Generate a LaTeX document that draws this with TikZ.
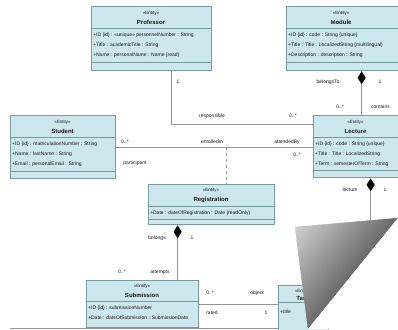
\documentclass[tikz,border=0pt]{standalone}
\usepackage{fontspec}
\setmainfont{Liberation Sans}
\usetikzlibrary{arrows.meta,calc}
\definecolor{boxfill}{RGB}{204,232,238}
\definecolor{boxline}{RGB}{120,155,160}
\definecolor{conncol}{RGB}{150,150,150}
\definecolor{txt}{RGB}{25,25,25}
\tikzset{
  umlbox/.style={draw=boxline, fill=boxfill, line width=1.3pt, inner sep=0pt, anchor=north west},
  stereo/.style={font=\fontsize{4.5}{5}\selectfont, text=txt, inner sep=0pt},
  cname/.style={font=\fontsize{6}{6}\selectfont\bfseries, text=txt, inner sep=0pt},
  attr/.style={font=\fontsize{5}{5}\selectfont, text=txt, inner sep=0pt, anchor=west},
  divider/.style={draw=boxline, line width=0.8pt},
  conn/.style={draw=conncol, line width=0.9pt},
  comp/.style={conn, -{Diamond[length=13pt,width=8pt,color=black,fill=black]}},
  assoc/.style={conn, dashed, line width=0.7pt},
  lbl/.style={font=\fontsize{5}{5}\selectfont, text=txt, inner sep=0pt},
}
\begin{document}
\begin{tikzpicture}[x=1pt,y=-1pt]
\useasboundingbox (0,0) rectangle (398,329);
\fill[white] (0,0) rectangle (398,329);

% Professor
\node[umlbox, minimum width=120pt, minimum height=64pt] (prof) at (91,6) {};
\node[stereo] (profS) at (151,13) {«Entity»};
\node[cname] (profN) at (151,22) {Professor};
\draw[divider] (91,28) -- (211,28);
\node[attr] (profA1) at (93,35) {+ID \{id\} : «unique» personnelNumber : String};
\node[attr] (profA2) at (93,45) {+Title : academicTitle : String};
\node[attr] (profA3) at (93,55) {+Name : personalName : Name \{read\}};
\draw[divider] (91,62) -- (211,62);

% Module
\node[umlbox, minimum width=112pt, minimum height=64pt] (mod) at (286,6) {};
\node[stereo] (modS) at (341,13) {«Entity»};
\node[cname] (modN) at (341,22) {Module};
\draw[divider] (286,28) -- (398,28);
\node[attr] (modA1) at (288,35) {+ID \{id\} : code : String \{unique\}};
\node[attr] (modA2) at (288,45) {+Title : Title : LocalizedString \{multilingual\}};
\node[attr] (modA3) at (288,55) {+Description : description : String};
\draw[divider] (286,62) -- (398,62);

% Student
\node[umlbox, minimum width=105pt, minimum height=63pt] (stu) at (10,115) {};
\node[stereo] (stuS) at (62.5,122) {«Entity»};
\node[cname] (stuN) at (62.5,131) {Student};
\draw[divider] (10,137) -- (115,137);
\node[attr] (stuA1) at (12,144) {+ID \{id\} : matriculationNumber : String};
\node[attr] (stuA2) at (12,154) {+Name : lastName : String};
\node[attr] (stuA3) at (12,164) {+Email : personalEmail : String};
\draw[divider] (10,171) -- (115,171);

% Lecture
\node[umlbox, minimum width=85pt, minimum height=62pt] (lec) at (313,115) {};
\node[stereo] (lecS) at (355.5,122) {«Entity»};
\node[cname] (lecN) at (355.5,131) {Lecture};
\draw[divider] (313,137) -- (398,137);
\node[attr] (lecA1) at (315,144) {+ID \{id\} : code : String \{unique\}};
\node[attr] (lecA2) at (315,154) {+Title : Title : LocalizedString};
\node[attr] (lecA3) at (315,164) {+Term : semesterOfTerm : String};
\draw[divider] (313,170) -- (398,170);

% Registration (association class)
\node[umlbox, minimum width=126pt, minimum height=40pt] (reg) at (148,184) {};
\node[stereo] (regS) at (211,190) {«Entity»};
\node[cname] (regN) at (211,200) {Registration};
\draw[divider] (148,206) -- (274,206);
\node[attr] (regA1) at (150,213) {+Date : dateOfRegistration : Date \{readOnly\}};
\draw[divider] (148,219) -- (274,219);

% Submission
\node[umlbox, minimum width=112pt, minimum height=47pt] (sub) at (86,280) {};
\node[stereo] (subS) at (142,286) {«Entity»};
\node[cname] (subN) at (142,295) {Submission};
\draw[divider] (86,301) -- (198,301);
\node[attr] (subA1) at (88,308) {+ID \{id\} : submissionNumber};
\node[attr] (subA2) at (88,318) {+Date : dateOfSubmission : SubmissionDate};

% Task (partly hidden)
\node[umlbox, minimum width=50pt, minimum height=50pt] (task) at (278,285) {};
\node[stereo] (taskS) at (303,291) {«Entity»};
\node[cname] (taskN) at (303,298) {Task};
\draw[divider] (278,302) -- (328,302);
\node[attr] (taskA1) at (280,312) {+title};

% bottom line
\draw[conn] (10,328) -- (278,328);

% connectors
\draw[conn] ([xshift=20pt]prof.south) |- ([yshift=22pt]lec.west);
\coordinate (mdot) at ([xshift=19pt]mod.south);
\draw[comp] (mdot |- lec.north) -- (mdot);
\draw[conn] (stu.east) -- (stu.east -| lec.west);
\coordinate (acp) at ($(stu.east)!0.56!(stu.east -| lec.west)$);
\draw[assoc] (acp) -- (acp |- reg.north);
\coordinate (rdot) at ([xshift=-34pt]reg.south);
\draw[comp] (rdot |- sub.north) -- (rdot);
\draw[conn] (sub.east) -- (sub.east -| task.west);
\coordinate (ldot) at ([xshift=14.5pt]lec.south);
\coordinate (lend) at ([yshift=-50pt]ldot);
\draw[comp] (lend) -- (ldot);

% labels
\node[lbl] (l1) at (178,82) {1};
\node[lbl] (l2) at (212,116) {responsible};
\node[lbl] (l3) at (293,116) {0..*};
\node[lbl] (l4) at (328,82) {belongsTo};
\node[lbl] (l5) at (380,82) {1};
\node[lbl] (l6) at (340,107) {0..*};
\node[lbl, anchor=west] (l7) at (371,107) {contains};
\node[lbl] (l8) at (125,142) {0..*};
\node[lbl] (l9) at (135,163) {participant};
\node[lbl] (l10) at (212,142) {enrolledIn};
\node[lbl] (l11) at (287,142) {attendedBy};
\node[lbl] (l12) at (297,155) {0..*};
\node[lbl] (l13) at (157,238) {belongs};
\node[lbl] (l14) at (192,238) {1};
\node[lbl] (l15) at (122,272) {0..*};
\node[lbl] (l16) at (160,272) {attempts};
\node[lbl] (l17) at (350,190) {lecture};
\node[lbl] (l18) at (385,190) {1};
\node[lbl] (l19) at (210,293) {0..*};
\node[lbl] (l20) at (257,293) {object};
\node[lbl] (l21) at (212,313) {rated};
\node[lbl] (l22) at (266,313) {1};

% page curl
\coordinate (cA) at (295,227);
\coordinate (cB) at (398,218);
\coordinate (cC) at (308,329);
\begin{scope}
\clip (cA) -- (cB) -- (cC) -- cycle;
\foreach \i in {0,...,39}{
  \pgfmathsetmacro\ta{\i/40}
  \pgfmathsetmacro\tb{(\i+1)/40}
  \pgfmathsetmacro\k{58-40*\ta}
  \fill[black!\k!white, draw=black!\k!white, line width=0.4pt]
    ($(cB)!\ta!(cA)$) -- ($(cC)!\ta!(cA)$) -- ($(cC)!\tb!(cA)$) -- ($(cB)!\tb!(cA)$) -- cycle;
}
\end{scope}
\fill[white] (cB) -- (398,329) -- (cC) -- cycle;
\end{tikzpicture}
\end{document}
